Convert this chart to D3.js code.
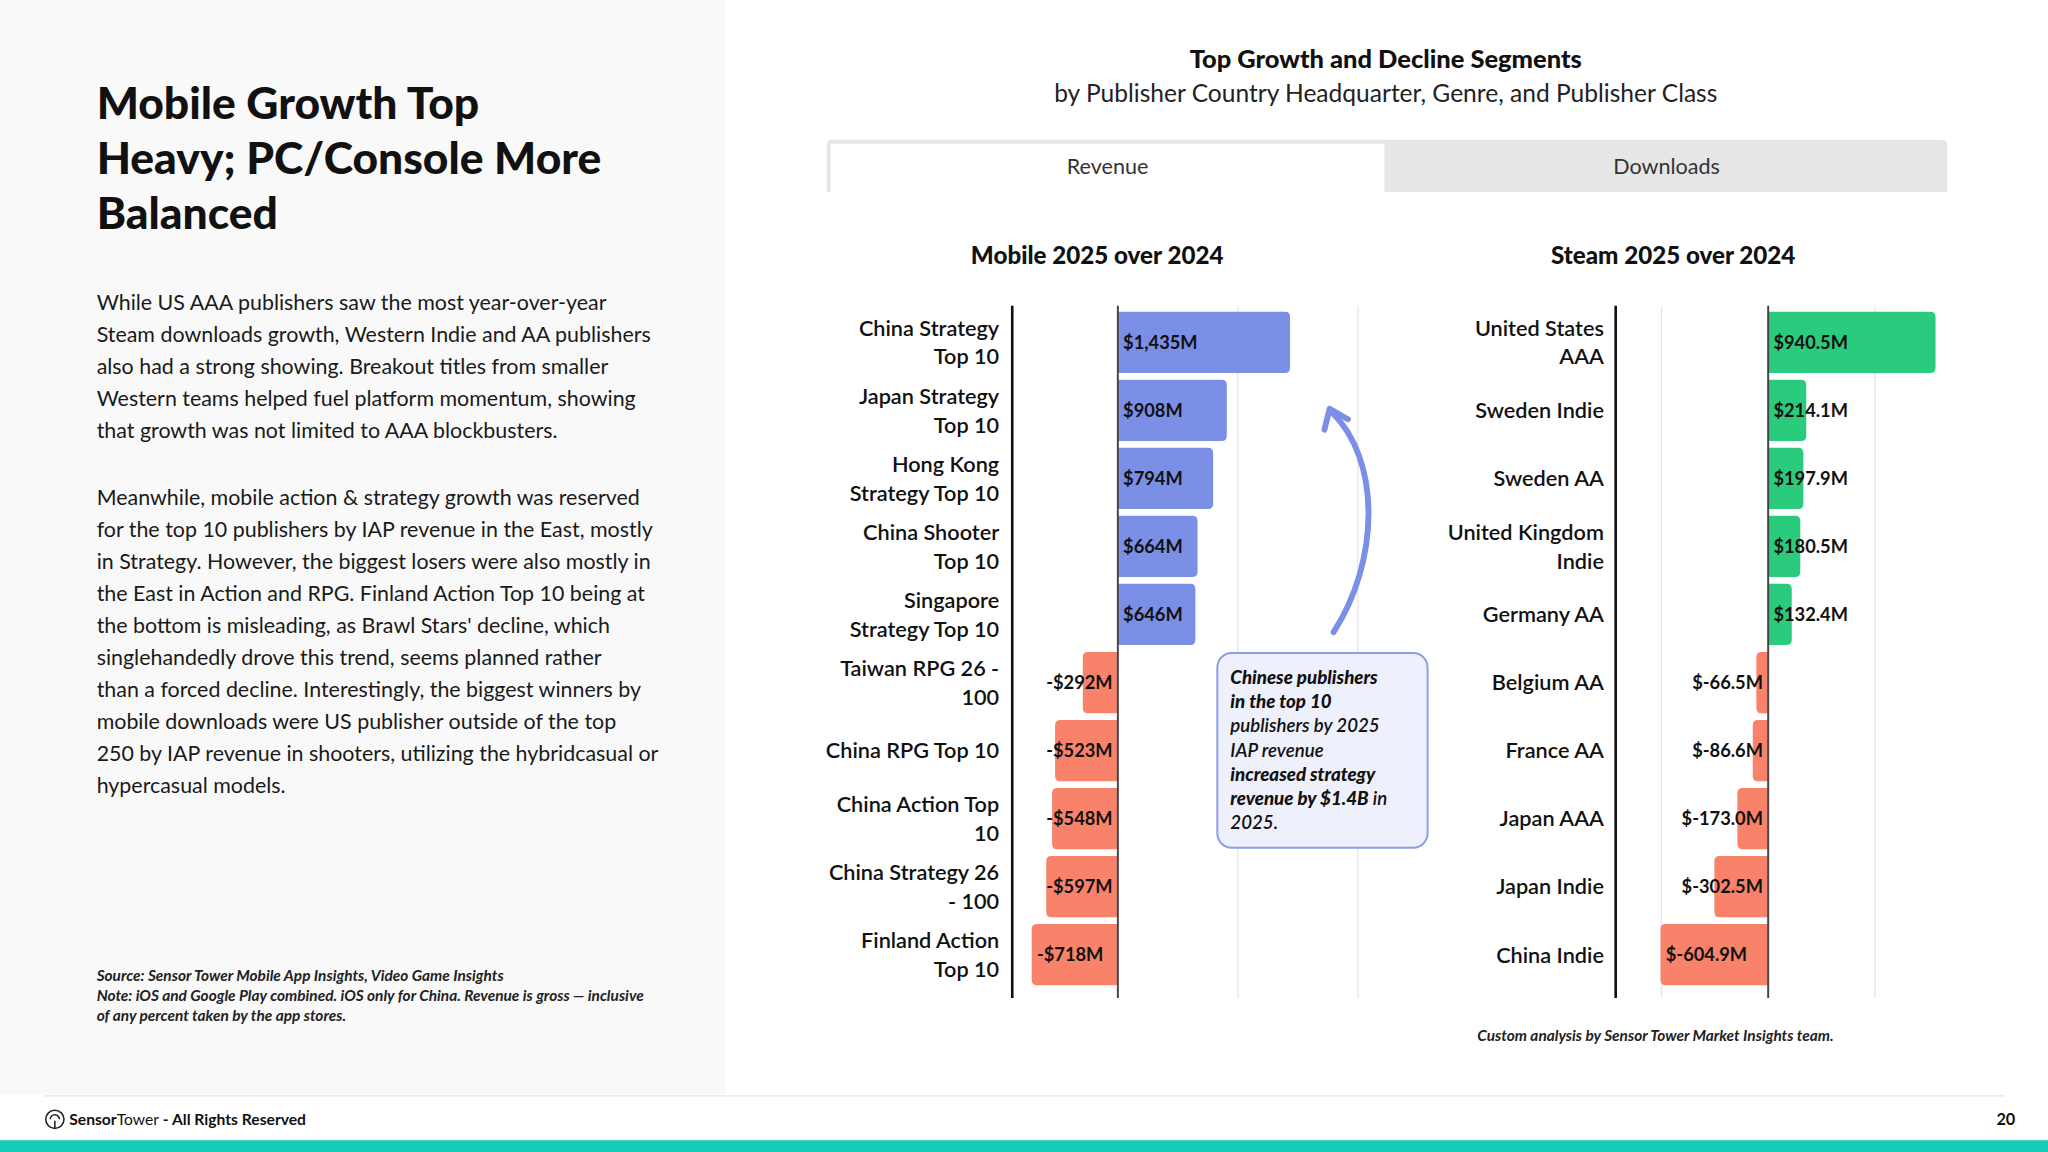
<!DOCTYPE html>
<html lang="en">
<head>
  <meta charset="UTF-8" />
  <title>Top Growth and Decline Segments</title>
  <script src="https://d3js.org/d3.v7.min.js"></script>
  <style>
    body {
      margin: 0;
      background: #ffffff;
      font-family: Lato, "Noto Sans", sans-serif;
    }
    svg { display: block; }
    .rowLabel { font-size: 16.6px; font-weight: 600; fill: #111; }
    .valLabel { font-size: 14px; font-weight: 700; fill: #111; }
    .chartTitle { font-size: 18.5px; font-weight: 900; fill: #111; }
    .body { font-size: 16.4px; fill: #1a1a1a; }
    .note { font-size: 11.8px; font-style: italic; font-weight: 700; fill: #222; }
  </style>
</head>
<body>
  <svg id="page" width="2048" height="1152" viewBox="0 0 1568 882"></svg>
  <script>
    // ---- data ----
    const mobileLabels = [
      "China Strategy|Top 10", "Japan Strategy|Top 10", "Hong Kong|Strategy Top 10",
      "China Shooter|Top 10", "Singapore|Strategy Top 10", "Taiwan RPG 26 -|100",
      "China RPG Top 10", "China Action Top|10", "China Strategy 26|- 100", "Finland Action|Top 10"
    ];
    const mobileValues = [1435, 908, 794, 664, 646, -292, -523, -548, -597, -718];
    const mobileGrid = [1000, 2000];

    const steamLabels = [
      "United States|AAA", "Sweden Indie", "Sweden AA", "United Kingdom|Indie", "Germany AA",
      "Belgium AA", "France AA", "Japan AAA", "Japan Indie", "China Indie"
    ];
    const steamValues = [940.5, 214.1, 197.9, 180.5, 132.4, -66.5, -86.6, -173.0, -302.5, -604.9];
    const steamGrid = [-600, 600];

    const colors = { mobileUp: "#7b8fe6", steamUp: "#2acb7d", down: "#f9826b" };

    const para1 = [
      "While US AAA publishers saw the most year-over-year",
      "Steam downloads growth, Western Indie and AA publishers",
      "also had a strong showing. Breakout titles from smaller",
      "Western teams helped fuel platform momentum, showing",
      "that growth was not limited to AAA blockbusters."
    ];
    const para2 = [
      "Meanwhile, mobile action & strategy growth was reserved",
      "for the top 10 publishers by IAP revenue in the East, mostly",
      "in Strategy. However, the biggest losers were also mostly in",
      "the East in Action and RPG. Finland Action Top 10 being at",
      "the bottom is misleading, as Brawl Stars' decline, which",
      "singlehandedly drove this trend, seems planned rather",
      "than a forced decline. Interestingly, the biggest winners by",
      "mobile downloads were US publisher outside of the top",
      "250 by IAP revenue in shooters, utilizing the hybridcasual or",
      "hypercasual models."
    ];

    const svg = d3.select("#page");

    // ---- page background / left panel ----
    svg.append("rect").attr("x", 0).attr("y", 0).attr("width", 555).attr("height", 838).attr("fill", "#f9f9f9");

    const title = svg.append("text").attr("x", 74).attr("y", 91)
      .attr("font-size", 34).attr("font-weight", 900).attr("fill", "#111");
    ["Mobile Growth Top", "Heavy; PC/Console More", "Balanced"].forEach((t, i) => {
      title.append("tspan").attr("x", 74).attr("dy", i === 0 ? 0 : 42).text(t);
    });

    function paragraph(lines, y0) {
      const t = svg.append("text").attr("class", "body").attr("x", 74).attr("y", y0);
      lines.forEach((l, i) => t.append("tspan").attr("x", 74).attr("dy", i === 0 ? 0 : 24.5).text(l));
    }
    paragraph(para1, 237);
    paragraph(para2, 387);

    const note = svg.append("text").attr("class", "note").attr("x", 74).attr("y", 751);
    ["Source: Sensor Tower Mobile App Insights, Video Game Insights",
     "Note: iOS and Google Play combined. iOS only for China. Revenue is gross \u2014 inclusive",
     "of any percent taken by the app stores."].forEach((l, i) => {
      note.append("tspan").attr("x", 74).attr("dy", i === 0 ? 0 : 15.5).text(l);
    });

    // ---- right header ----
    svg.append("text").attr("x", 1061).attr("y", 52).attr("text-anchor", "middle")
      .attr("font-size", 19.5).attr("font-weight", 900).attr("fill", "#111")
      .text("Top Growth and Decline Segments");
    svg.append("text").attr("x", 1061).attr("y", 78).attr("text-anchor", "middle")
      .attr("font-size", 18.8).attr("fill", "#222")
      .text("by Publisher Country Headquarter, Genre, and Publisher Class");

    // tabs
    svg.append("path")
      .attr("d", "M633,147 V111 Q633,107 637,107 H1487 Q1491,107 1491,111 V147 Z")
      .attr("fill", "#e6e6e6");
    svg.append("rect").attr("x", 636).attr("y", 110).attr("width", 424).attr("height", 40).attr("fill", "#fff");
    svg.append("text").attr("x", 848).attr("y", 133).attr("text-anchor", "middle")
      .attr("font-size", 16.5).attr("fill", "#333").text("Revenue");
    svg.append("text").attr("x", 1276).attr("y", 133).attr("text-anchor", "middle")
      .attr("font-size", 16.5).attr("fill", "#333").text("Downloads");

    // ---- charts ----
    const y = d3.scaleBand().domain(d3.range(10)).range([236, 757]).paddingInner(0.1).paddingOuter(0.05);
    const yTop = y.range()[0] - 2, yBot = y.range()[1] + 7;

    function barPath(x0, x1, top, h) {
      const s = x1 >= x0 ? 1 : -1;
      const r = Math.min(4, Math.abs(x1 - x0));
      return `M${x0},${top} H${x1 - s * r} Q${x1},${top} ${x1},${top + r} ` +
             `V${top + h - r} Q${x1},${top + h} ${x1 - s * r},${top + h} H${x0} Z`;
    }

    function drawChart(opts) {
      const { labels, values, grid, x, upColor, fmt, title, titleX, labelX } = opts;
      const g = svg.append("g");
      const zero = x(0);

      g.append("text").attr("class", "chartTitle").attr("x", titleX).attr("y", 202)
        .attr("text-anchor", "middle").text(title);

      g.selectAll("line.grid").data(grid).join("line")
        .attr("class", "grid")
        .attr("x1", d => x(d)).attr("x2", d => x(d))
        .attr("y1", yTop).attr("y2", yBot)
        .attr("stroke", "#e6e6e6").attr("stroke-width", 1);

      g.selectAll("path.bar").data(values).join("path")
        .attr("class", "bar")
        .attr("d", (d, i) => barPath(zero, x(d), y(i), y.bandwidth()))
        .attr("fill", d => d >= 0 ? upColor : colors.down);

      // zero line and left axis
      g.append("line").attr("x1", zero).attr("x2", zero).attr("y1", yTop).attr("y2", yBot)
        .attr("stroke", "#444").attr("stroke-width", 1.5);
      g.append("line").attr("x1", x.range()[0]).attr("x2", x.range()[0]).attr("y1", yTop).attr("y2", yBot)
        .attr("stroke", "#111").attr("stroke-width", 2);

      // category labels
      labels.forEach((lab, i) => {
        const lines = lab.split("|");
        const cy = y(i) + y.bandwidth() / 2;
        const t = g.append("text").attr("class", "rowLabel").attr("text-anchor", "end")
          .attr("x", labelX).attr("y", cy + 6 - (lines.length - 1) * 11);
        lines.forEach((l, k) => t.append("tspan").attr("x", labelX).attr("dy", k === 0 ? 0 : 22).text(l));
      });

      // value labels
      values.forEach((v, i) => {
        const cy = y(i) + y.bandwidth() / 2;
        const t = g.append("text").attr("class", "valLabel").attr("y", cy + 5).text(fmt(v));
        if (v >= 0) {
          t.attr("x", zero + 4);
        } else {
          const w = t.node().getComputedTextLength();
          t.attr("x", Math.min(x(v) + 4, zero - 4 - w));
        }
      });
    }

    const mobileX = d3.scaleLinear().domain([-880, 2200]).range([775, 1058]);
    const steamX = d3.scaleLinear().domain([-857, 1000]).range([1237, 1490]);

    drawChart({
      labels: mobileLabels, values: mobileValues, grid: mobileGrid, x: mobileX,
      upColor: colors.mobileUp, title: "Mobile 2025 over 2024", titleX: 840, labelX: 765,
      fmt: v => (v < 0 ? "-$" : "$") + d3.format(",")(Math.abs(v)) + "M"
    });
    drawChart({
      labels: steamLabels, values: steamValues, grid: steamGrid, x: steamX,
      upColor: colors.steamUp, title: "Steam 2025 over 2024", titleX: 1281, labelX: 1228,
      fmt: v => "$" + v.toFixed(1) + "M"
    });

    // ---- annotation ----
    svg.append("path")
      .attr("d", "M1021,484 C1056,430 1058,352 1019,315")
      .attr("fill", "none").attr("stroke", colors.mobileUp).attr("stroke-width", 4.5)
      .attr("stroke-linecap", "round");
    svg.append("path")
      .attr("d", "M1014,329 L1018,313 L1032,321")
      .attr("fill", "none").attr("stroke", colors.mobileUp).attr("stroke-width", 4.5)
      .attr("stroke-linecap", "round").attr("stroke-linejoin", "round");

    svg.append("rect").attr("x", 932).attr("y", 500).attr("width", 161).attr("height", 149).attr("rx", 11)
      .attr("fill", "#eef0fb").attr("stroke", "#8d9de6").attr("stroke-width", 1.5);
    const ann = [
      [["Chinese publishers", 900]],
      [["in the top 10", 900]],
      [["publishers by 2025", 600]],
      [["IAP revenue", 600]],
      [["increased strategy", 900]],
      [["revenue by $1.4B", 900], [" in", 600]],
      [["2025.", 600]]
    ];
    const annText = svg.append("text").attr("x", 942).attr("y", 524)
      .attr("font-size", 14.3).attr("font-style", "italic").attr("fill", "#111");
    ann.forEach((runs, i) => {
      runs.forEach(([txt, wt], k) => {
        const ts = annText.append("tspan").attr("font-weight", wt).text(txt);
        if (k === 0) ts.attr("x", 942).attr("dy", i === 0 ? 0 : 18.4);
      });
    });

    svg.append("text").attr("x", 1131).attr("y", 797).attr("class", "note")
      .attr("font-size", 12).text("Custom analysis by Sensor Tower Market Insights team.");

    // ---- footer ----
    svg.append("line").attr("x1", 33).attr("x2", 1535).attr("y1", 839).attr("y2", 839)
      .attr("stroke", "#e6e6e6").attr("stroke-width", 1);
    svg.append("circle").attr("cx", 42).attr("cy", 857).attr("r", 7)
      .attr("fill", "none").attr("stroke", "#222").attr("stroke-width", 1.2);
    svg.append("path").attr("d", "M42,864 V858 M38.5,857 A3.5,3.5 0 1 1 45.5,857")
      .attr("fill", "none").attr("stroke", "#222").attr("stroke-width", 1.2);
    const foot = svg.append("text").attr("x", 53).attr("y", 861).attr("font-size", 12).attr("fill", "#111");
    foot.append("tspan").attr("font-weight", 700).text("Sensor");
    foot.append("tspan").attr("font-weight", 400).text("Tower");
    foot.append("tspan").attr("font-weight", 700).text(" - All Rights Reserved");
    svg.append("text").attr("x", 1543).attr("y", 861).attr("text-anchor", "end")
      .attr("font-size", 12.5).attr("font-weight", 700).attr("fill", "#111").text("20");

    svg.append("rect").attr("x", 0).attr("y", 873).attr("width", 1568).attr("height", 9).attr("fill", "#14cdb8");
  </script>
</body>
</html>
